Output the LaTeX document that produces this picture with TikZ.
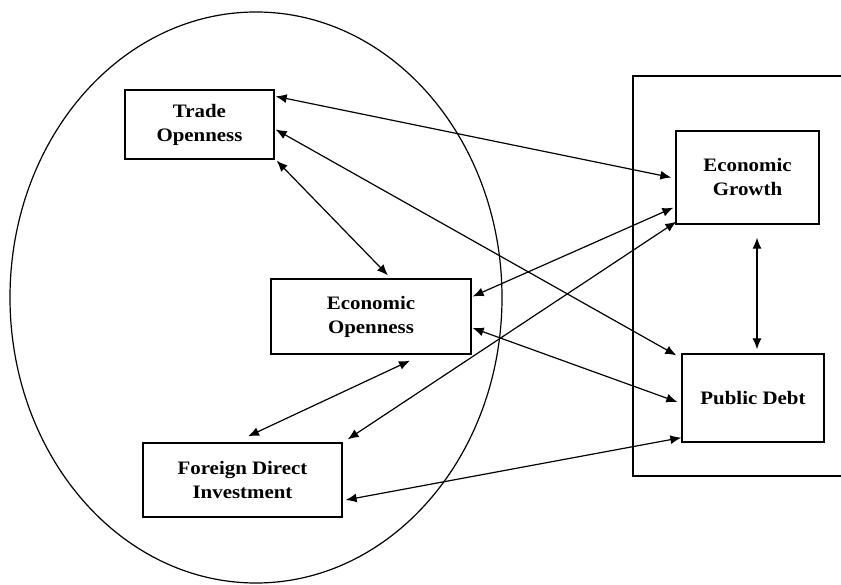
\documentclass[tikz,border=0pt]{standalone}
\usepackage{fontspec}
\setmainfont[FakeStretch=1.1]{Liberation Serif}
\usetikzlibrary{arrows.meta,calc}
\tikzset{
  box/.style={draw, line width=1.3pt, fill=white, align=center, inner sep=0pt,
    font=\fontsize{19}{24}\selectfont\bfseries},
  link/.style={line width=1.2pt, {Latex[length=11pt,width=9pt]}-{Latex[length=11pt,width=9pt]}},
  frame/.style={line width=1.2pt}
}
\begin{document}
\begin{tikzpicture}[x=1pt,y=1pt]
\useasboundingbox (0,0) rectangle (841,584);
\begin{scope}
\clip (0,0) rectangle (841,584);
\draw[frame] (256,286.5) ellipse [x radius=246, y radius=285.5];
\draw[frame] (850,508) -- (633,508) -- (633,108) -- (850,108);
\end{scope}
\node[box, minimum width=149pt, minimum height=69pt] (TO) at (199.5,459.5) {Trade\\Openness};
\node[box, minimum width=143pt, minimum height=93pt] (EG) at (747.5,406.5) {Economic\\Growth};
\node[box, minimum width=142pt, minimum height=88pt] (PD) at (753,186) {Public Debt};
\node[box, minimum width=199pt, minimum height=74pt] (FDI) at (242.5,104) {Foreign Direct\\Investment};
\node[box, minimum width=200pt, minimum height=75pt] (EO) at (371,267.5) {Economic\\Openness};
\draw[link] ([xshift=1pt,yshift=-7pt]TO.north east) -- ([xshift=-4pt]EG.west);
\draw[link] ([xshift=1pt,yshift=-5pt]TO.east) -- ([xshift=-5pt,yshift=-2pt]PD.north west);
\draw[link] ([xshift=2pt,yshift=-1pt]TO.south east) -- ([xshift=17pt,yshift=3pt]EO.north);
\draw[link] ([xshift=1pt,yshift=20pt]EO.east) -- ([xshift=-2pt,yshift=17pt]EG.south west);
\draw[link] ([xshift=1pt,yshift=-11.5pt]EO.east) -- ([xshift=-4pt,yshift=-4pt]PD.west);
\draw[link] ([xshift=39pt,yshift=-6pt]EO.south) -- ([xshift=5.5pt,yshift=6pt]FDI.north);
\draw[link] ([xshift=5pt,yshift=3pt]FDI.north east) -- ([xshift=1pt,yshift=3pt]EG.south west);
\draw[link] ([xshift=3pt,yshift=-20pt]FDI.east) -- ([yshift=5pt]PD.south west);
\draw[link] ([xshift=9.5pt,yshift=-13pt]EG.south) -- ([xshift=4pt,yshift=4pt]PD.north);
\end{tikzpicture}
\end{document}
